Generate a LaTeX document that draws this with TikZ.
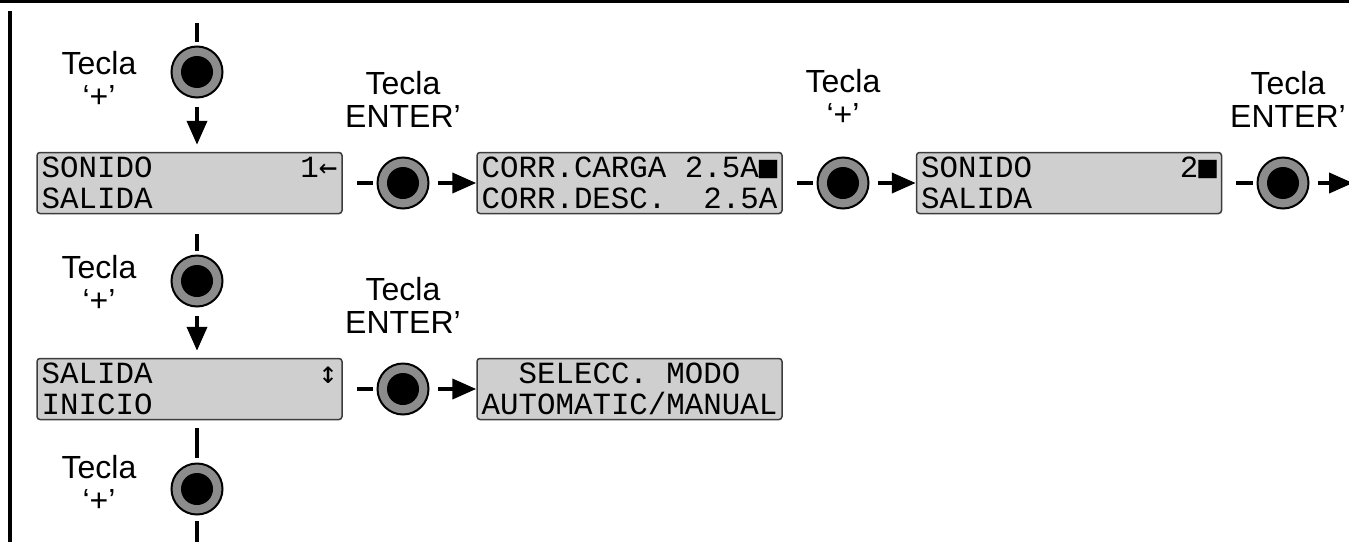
\documentclass[tikz,border=0pt]{standalone}
\usepackage{fontspec}
\setmainfont{Liberation Sans}
\newfontfamily\lcdfont{Liberation Mono}
\newfontfamily\lcdsym{DejaVu Sans Mono}
\usetikzlibrary{arrows.meta,positioning,calc}
\definecolor{lcdgray}{HTML}{CFCFCF}
\definecolor{ringgray}{HTML}{8C8C8C}
\definecolor{boxline}{HTML}{3C3C3C}
\frenchspacing

\tikzset{
  lcd/.style={draw=boxline, line width=1.5pt, fill=lcdgray, rounded corners=3pt,
    minimum width=305pt, minimum height=61pt, inner sep=0pt, align=left,
    font=\lcdfont\fontsize{30.8}{31}\selectfont},
  key/.style={circle, draw=black, line width=2pt, fill=ringgray,
    minimum size=51pt, inner sep=0pt,
    path picture={\fill[black] (path picture bounding box.center) circle[radius=16pt];}},
  keylbl/.style={align=center, inner sep=0pt, font=\fontsize{32}{33}\selectfont},
  stub/.style={line width=4.5pt},
  arr/.style={line width=4pt, -{Triangle[length=24pt,width=20pt]}},
}

\begin{document}
\begin{tikzpicture}[x=1pt,y=-1pt]
  \useasboundingbox (0,0) rectangle (1349,541);
  % Frame
  \draw[line width=3pt] (0,1) -- (1349,1);
  \draw[line width=4pt] (10,11) -- (10,545);
  % Menu column
  \node[key] (k1) at (197,72) {};
  \node[lcd] (b1) at (189.5,183) {SONIDO~~~~~~~~1{\lcdsym←}\\SALIDA};
  \node[key] (k2) at (197,281) {};
  \node[lcd] (b4) at (189.5,389) {SALIDA~~~~~~~~~{\lcdsym↕}\\INICIO};
  \node[key] (k3) at (197,489) {};
  % Submenu rows
  \node[key] (e1) at (403,183) {};
  \node[lcd] (b2) at (629.5,183) {CORR.CARGA~2.5A{\lcdsym■}\\CORR.DESC.~~2.5A};
  \node[key] (p1) at (843,183) {};
  \node[lcd] (b3) at (1069,183) {SONIDO~~~~~~~~2{\lcdsym■}\\SALIDA};
  \node[key] (e2) at (1283,183) {};
  \node[key] (e3) at (403,389) {};
  \node[lcd, align=center] (b5) at (629.5,389) {SELECC.~MODO\\AUTOMATIC/MANUAL};
  \coordinate (top) at (197,23);
  \coordinate (bot) at (197,545);
  \coordinate (out) at (1353,183);
  % Key labels
  \node[keylbl] (t1) at ($(k1)+(-98,7)$) {Tecla\\‘+’};
  \node[keylbl] (t2) at ($(k2)+(-98,2)$) {Tecla\\‘+’};
  \node[keylbl] (t3) at ($(k3)+(-98,-6)$) {Tecla\\‘+’};
  \node[keylbl] (l1) at ($(e1)+(0,-84)$) {Tecla\\ENTER’};
  \node[keylbl] (l2) at ($(p1)+(0,-86)$) {Tecla\\‘+’};
  \node[keylbl] (l3) at ($(e2)+(5,-84)$) {Tecla\\ENTER’};
  \node[keylbl] (l4) at ($(e3)+(0,-84)$) {Tecla\\ENTER’};
  % Vertical flow
  \draw[stub, shorten >=4pt] (top) -- (k1);
  \draw[arr, shorten <=8pt, shorten >=7pt] (k1) -- (k1 |- b1.north);
  \draw[stub, shorten <=20pt, shorten >=4pt] (k1 |- b1.south) -- (k2);
  \draw[arr, shorten <=8pt, shorten >=7pt] (k2) -- (k2 |- b4.north);
  \draw[stub, shorten <=8pt, shorten >=5pt] (k2 |- b4.south) -- (k3);
  \draw[stub, shorten <=5pt] (k3) -- (bot);
  % Horizontal flow
  \draw[stub, shorten <=14pt, shorten >=4pt] (b1) -- (e1);
  \draw[arr, shorten <=8pt] (e1) -- (b2);
  \draw[stub, shorten <=14pt, shorten >=4pt] (b2) -- (p1);
  \draw[arr, shorten <=8pt] (p1) -- (b3);
  \draw[stub, shorten <=14pt, shorten >=4pt] (b3) -- (e2);
  \draw[arr, shorten <=8pt] (e2) -- (out);
  \draw[stub, shorten <=14pt, shorten >=4pt] (b4) -- (e3);
  \draw[arr, shorten <=8pt] (e3) -- (b5);
\end{tikzpicture}
\end{document}
